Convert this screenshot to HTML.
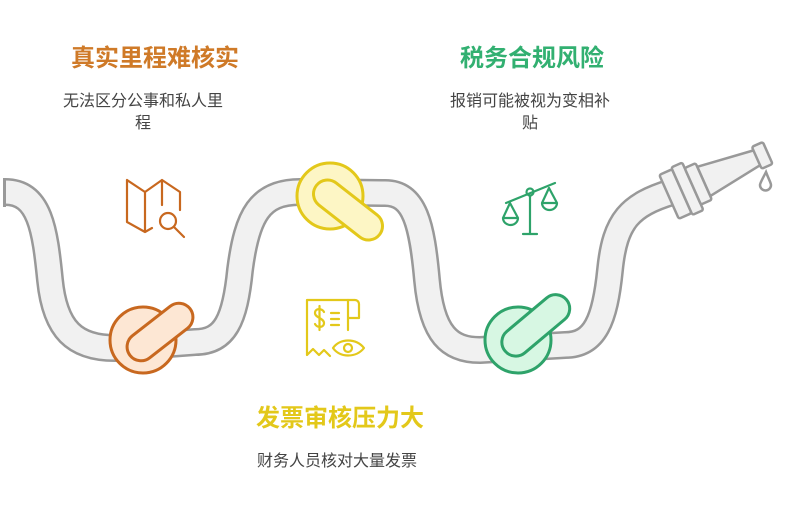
<!DOCTYPE html>
<html><head><meta charset="utf-8"><style>
body{margin:0;background:#fff;width:803px;height:512px;overflow:hidden;}
svg{display:block}
text{font-family:"Liberation Sans","Noto Sans CJK SC",sans-serif;}
</style></head><body>
<svg width="803" height="512" viewBox="0 0 803 512">
<defs>
<pattern id="st" width="8" height="8" patternUnits="userSpaceOnUse" patternTransform="rotate(45)">
<rect width="8" height="8" fill="#f1f1f1"/><rect width="3" height="8" fill="#f8f8f8"/></pattern>
</defs>
<!-- hose -->
<path d="M5,192 C40,192 45,230 50,280 C55,330 75,348 115,348 L195,342 C225,342 235,320 240,270 C247,215 260,192 300,192 L385,193 C415,193 422,225 427,280 C432,335 450,350 480,350 L565,345 C595,345 605,320 610,270 C615,220 630,205 672,192" fill="none" stroke="#999" stroke-width="28"/>
<path d="M5,192 C40,192 45,230 50,280 C55,330 75,348 115,348 L195,342 C225,342 235,320 240,270 C247,215 260,192 300,192 L385,193 C415,193 422,225 427,280 C432,335 450,350 480,350 L565,345 C595,345 605,320 610,270 C615,220 630,205 672,192" fill="none" stroke="#f1f1f1" stroke-width="23"/>
<rect x="3" y="178" width="3" height="29" fill="#999"/>
<!-- nozzle -->
<g transform="rotate(-24 680 192)" fill="#f1f1f1" stroke="#999" stroke-width="2.5" stroke-linejoin="round">
<polygon points="706,176 765,184 765,200 706,208"/>
<rect x="764" y="180" width="12" height="24" rx="2"/>
<rect x="668" y="168" width="14" height="48" rx="2"/>
<rect x="682" y="166" width="12" height="52" rx="2"/>
<rect x="694" y="172" width="12" height="40" rx="2"/>
</g>
<path d="M766,172 C762,180 760,183 760,185 a5,5 0 0 0 11,0 C771,183 769,180 766,172Z" fill="none" stroke="#999" stroke-width="2.5"/>
<!-- orange knot -->
<circle cx="143" cy="340" r="33" fill="#fde7d4" stroke="#c8681f" stroke-width="3"/>
<rect x="122" y="318" width="76" height="28" rx="14" transform="rotate(-38 160 332)" fill="#fde7d4" stroke="#c8681f" stroke-width="3"/>
<!-- yellow knot -->
<circle cx="330" cy="196" r="33" fill="#fdf6c5" stroke="#e3c81a" stroke-width="3"/>
<rect x="308" y="196" width="80" height="28" rx="14" transform="rotate(38 348 210)" fill="#fdf6c5" stroke="#e3c81a" stroke-width="3"/>
<!-- green knot -->
<circle cx="518" cy="340" r="33" fill="#d7f7e3" stroke="#2ea36a" stroke-width="3"/>
<rect x="496" y="312" width="80" height="28" rx="14" transform="rotate(-40 535 326)" fill="#d7f7e3" stroke="#2ea36a" stroke-width="3"/>
<!-- map icon -->
<g fill="none" stroke="#c8681f" stroke-width="2.2" stroke-linejoin="round" stroke-linecap="round">
<path d="M127,180 L127,222 L145,232 M127,180 L145,192 L162,180 L180,192 L180,210 M145,192 L145,232 M162,180 L162,205 M145,232 L152,228"/>
<circle cx="168" cy="221" r="8"/><path d="M174,227 L184,237"/>
</g>
<!-- receipt icon -->
<g fill="none" stroke="#e3c81a" stroke-width="2.2" stroke-linejoin="round" stroke-linecap="round">
<path d="M307,355 L307,300 L355,300 a4,4 0 0 1 4,4 L359,318 L349,318 M307,355 L313,349 L319,355 L324,350 L330,356"/>
<path d="M348,300 L348,330"/>
<path d="M324,312 C322,308 315,308 315,313 C315,318 324,318 324,323 C324,328 317,328 315,324 M319.5,306 L319.5,330"/>
<path d="M331,313 L339,313 M331,319 L339,319 M331,325 L339,325"/>
<path d="M333,348 C340,338 356,338 364,348 C356,358 340,358 333,348Z"/><circle cx="348" cy="348" r="4"/>
</g>
<!-- scale icon -->
<g fill="none" stroke="#2ea36a" stroke-width="2.2" stroke-linecap="round" stroke-linejoin="round">
<path d="M506,203 L555,183"/><circle cx="530" cy="192" r="3.5"/>
<path d="M530,196 L530,234 M523,234 L537,234"/>
<path d="M510,203 L503,218 L518,218 Z M503,218 a7.5,7 0 0 0 15,0"/>
<path d="M549,188 L542,203 L557,203 Z M542,203 a7.5,7 0 0 0 15,0"/>
</g>
<!-- text -->
<text x="155" y="66" text-anchor="middle" font-size="24" font-weight="bold" fill="#cf7a28">真实里程难核实</text>
<text x="143" y="106" text-anchor="middle" font-size="16" fill="#444">无法区分公事和私人里</text>
<text x="143" y="128" text-anchor="middle" font-size="16" fill="#444">程</text>
<text x="532" y="66" text-anchor="middle" font-size="24" font-weight="bold" fill="#32b071">税务合规风险</text>
<text x="530" y="106" text-anchor="middle" font-size="16" fill="#444">报销可能被视为变相补</text>
<text x="530" y="128" text-anchor="middle" font-size="16" fill="#444">贴</text>
<text x="340" y="426" text-anchor="middle" font-size="24" font-weight="bold" fill="#e3c81a">发票审核压力大</text>
<text x="337" y="466" text-anchor="middle" font-size="16" fill="#444">财务人员核对大量发票</text>
</svg>
</body></html>
